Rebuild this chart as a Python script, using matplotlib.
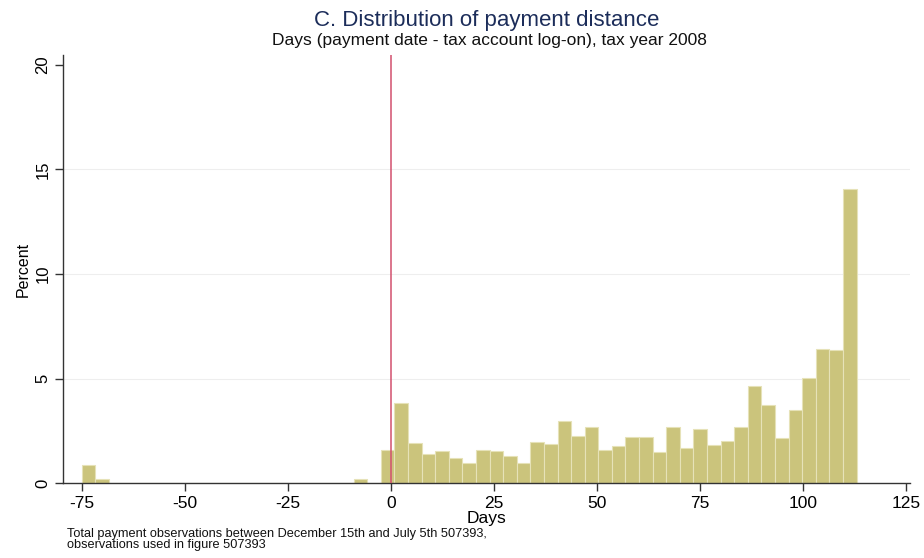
import matplotlib.pyplot as plt
import numpy as np

# histogram of payment distance, 57 bins from -75 to 113 days (percent per bin)
bin_start = -75.0
bin_end = 113.0
pct = [0.85, 0.18, 0, 0, 0, 0, 0, 0, 0, 0,
       0, 0, 0, 0, 0, 0, 0, 0, 0, 0,
       0.18, 0, 1.59, 3.83, 1.91, 1.38, 1.54, 1.19, 0.99, 1.59,
       1.54, 1.28, 0.99, 1.96, 1.86, 2.96, 2.24, 2.68, 1.59, 1.76,
       2.2, 2.2, 1.47, 2.68, 1.67, 2.58, 1.81, 2.0, 2.68, 4.66,
       3.72, 2.15, 3.49, 5.05, 6.43, 6.38, 14.07]
x_ticks = [-75, -50, -25, 0, 25, 50, 75, 100, 125]
y_ticks = [0, 5, 10, 15, 20]

plt.rcParams['font.family'] = ['Liberation Sans', 'DejaVu Sans']

fig = plt.figure(figsize=(9.24, 5.58), dpi=100)
ax = fig.add_axes([0.068, 0.134, 0.917, 0.767])

edges = np.linspace(bin_start, bin_end, len(pct) + 1)
width = edges[1] - edges[0]
ax.bar(edges[:-1], pct, width=width, align='edge', color='#CBC47C',
       edgecolor='#E6E2B8', linewidth=0.8, zorder=2)

# marker for the log-on day
ax.axvline(0, color='#D2506E', linewidth=1.1, zorder=3)

# light horizontal grid at inner ticks
for y in [5, 10, 15]:
    ax.axhline(y, color='#EEEEEE', linewidth=0.8, zorder=1)

ax.set_xlim(-79.6, 126)
ax.set_ylim(0, 20.46)
ax.set_xticks(x_ticks)
ax.set_xticklabels([str(v) for v in x_ticks], fontsize=12.5)
ax.set_yticks(y_ticks)
ax.set_yticklabels([str(v) for v in y_ticks], fontsize=12, rotation=90, va='center')
ax.tick_params(direction='out', length=6, width=1, color='#333333', pad=3)

for s in ['top', 'right']:
    ax.spines[s].set_visible(False)
for s in ['left', 'bottom']:
    ax.spines[s].set_color('#333333')
    ax.spines[s].set_linewidth(1)

ax.set_xlabel('Days', fontsize=12.5, labelpad=0)
ax.set_ylabel('Percent', fontsize=11.5, labelpad=3)

fig.text(0.527, 1 - 26 / 558, 'C. Distribution of payment distance', ha='center', va='baseline',
         fontsize=16, color='#1C2D5A')
fig.text(0.530, 1 - 45 / 558, 'Days (payment date - tax account log-on), tax year 2008',
         ha='center', va='baseline', fontsize=12.5, color='#111111')
fig.text(0.072, 1 - 537 / 558, 'Total payment observations between December 15th and July 5th 507393,',
         ha='left', va='baseline', fontsize=9.2, color='#111111')
fig.text(0.072, 1 - 548 / 558, 'observations used in figure 507393',
         ha='left', va='baseline', fontsize=9.2, color='#111111')

fig.savefig('out.png', dpi=100)
